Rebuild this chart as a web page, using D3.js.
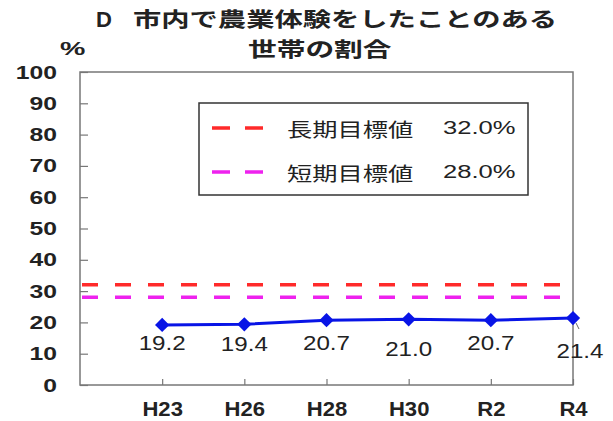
<!DOCTYPE html>
<html><head><meta charset="utf-8">
<script src="https://cdn.jsdelivr.net/npm/d3@7"></script>
<style>
html,body{margin:0;padding:0;background:#fff;}
svg{display:block;}
</style></head>
<body>
<svg id="chart" width="613" height="421"></svg>
<script>
// ---- data ----
const titlePrefix = "D";
const titleLines = ["市内で農業体験をしたことのある", "世帯の割合"];
const yUnit = "%";
const categories = ["H23", "H26", "H28", "H30", "R2", "R4"];
const values = [19.2, 19.4, 20.7, 21.0, 20.7, 21.4];
const valueLabels = ["19.2", "19.4", "20.7", "21.0", "20.7", "21.4"];
const yTicks = [0, 10, 20, 30, 40, 50, 60, 70, 80, 90, 100];
const targetNames = ["長期目標値", "短期目標値"];
const targetValues = [32.0, 28.0];
const targetLabels = ["32.0%", "28.0%"];

// ---- layout / style ----
const W = 613, H = 421;
const m = {left: 80, right: 573, top: 72, bottom: 385};
const targetColors = ["#ff2a2a", "#ee22ee"];
const lineColor = "#0814e6";
const latin = "'Liberation Sans', Arial, sans-serif";
const cjk = "'Noto Sans CJK JP', sans-serif";
const textColor = "#222";

const svg = d3.select("#chart");
svg.append("rect").attr("width", W).attr("height", H).attr("fill", "#fff");

function stretch(sel, k) {
  sel.each(function () {
    const w = this.getComputedTextLength();
    d3.select(this).attr("textLength", w * k).attr("lengthAdjust", "spacingAndGlyphs");
  });
}

const step = (m.right - m.left) / categories.length;
const x = d3.scalePoint().domain(categories).range([m.left + step, m.right]);
const y = d3.scaleLinear().domain([0, 100]).range([m.bottom, m.top]);

// frame
svg.append("rect")
  .attr("x", m.left).attr("y", m.top)
  .attr("width", m.right - m.left).attr("height", m.bottom - m.top)
  .attr("fill", "none").attr("stroke", "#777").attr("stroke-width", 1.5);

// y axis
const gy = svg.append("g").attr("transform", `translate(${m.left},0)`)
  .call(d3.axisLeft(y).tickValues(yTicks).tickSize(-8).tickPadding(23).tickFormat(d3.format("d")));
gy.select(".domain").remove();
gy.selectAll("line").attr("stroke", "#777").attr("stroke-width", 1.2);
gy.selectAll("text").attr("font-family", latin).attr("font-size", 19).attr("fill", textColor)
  .attr("font-weight", "bold");
stretch(gy.selectAll("text"), 1.3);

// x axis
const gx = svg.append("g").attr("transform", `translate(0,${m.bottom})`)
  .call(d3.axisBottom(x).tickSize(-6).tickPadding(16));
gx.select(".domain").remove();
gx.selectAll("line").attr("stroke", "#777").attr("stroke-width", 1.2);
gx.selectAll("text").attr("font-family", latin).attr("font-size", 21).attr("fill", textColor)
  .attr("font-weight", "bold");
stretch(gx.selectAll("text"), 1.05);

// target dashed lines
targetValues.forEach((v, i) => {
  svg.append("line")
    .attr("x1", m.left + 2).attr("x2", m.right)
    .attr("y1", y(v)).attr("y2", y(v))
    .attr("stroke", targetColors[i]).attr("stroke-width", 3.5)
    .attr("stroke-dasharray", "16,17");
});

// series line
const pts = categories.map((c, i) => [x(c), y(values[i])]);
svg.append("path").datum(pts)
  .attr("d", d3.line())
  .attr("fill", "none").attr("stroke", lineColor).attr("stroke-width", 3);
svg.selectAll(".mk").data(pts).join("path")
  .attr("class", "mk")
  .attr("transform", d => `translate(${d[0]},${d[1]})`)
  .attr("d", d3.symbol(d3.symbolDiamond2, 130)())
  .attr("fill", lineColor);

// leader line for last label
const last = pts[pts.length - 1];
svg.append("line")
  .attr("x1", last[0] + 3).attr("y1", last[1] + 5)
  .attr("x2", last[0] + 6).attr("y2", last[1] + 11)
  .attr("stroke", "#666").attr("stroke-width", 1);

// value labels
const labelNudge = [[0, 18], [0, 19], [0, 22], [0, 29], [0, 22], [7, 32]];
const vl = svg.selectAll(".vl").data(valueLabels).join("text")
  .attr("class", "vl")
  .attr("x", (d, i) => pts[i][0] + labelNudge[i][0])
  .attr("y", (d, i) => pts[i][1] + labelNudge[i][1])
  .attr("text-anchor", "middle").attr("dominant-baseline", "central")
  .attr("font-family", latin).attr("font-size", 21).attr("fill", textColor)
  .text(d => d);
stretch(vl, 1.15);

// legend
const lg = svg.append("g");
lg.append("rect").attr("x", 199).attr("y", 103).attr("width", 329).attr("height", 92)
  .attr("fill", "#fff").attr("stroke", "#333").attr("stroke-width", 1.5);
const legY = [128, 172];
targetNames.forEach((n, i) => {
  lg.append("line").attr("x1", 212).attr("x2", 264).attr("y1", legY[i]).attr("y2", legY[i])
    .attr("stroke", targetColors[i]).attr("stroke-width", 3.5).attr("stroke-dasharray", "18,15");
  const t1 = lg.append("text").attr("x", 287).attr("y", legY[i])
    .attr("dominant-baseline", "central")
    .attr("font-family", cjk).attr("font-size", 19).attr("fill", textColor).text(n);
  stretch(t1, 1.33);
  const t2 = lg.append("text").attr("x", 443).attr("y", legY[i])
    .attr("dominant-baseline", "central")
    .attr("font-family", latin).attr("font-size", 18).attr("fill", textColor).text(targetLabels[i]);
  stretch(t2, 1.42);
});

// title
const td = svg.append("text").attr("x", 96).attr("y", 19).attr("dominant-baseline", "central")
  .attr("font-family", latin).attr("font-weight", "bold").attr("font-size", 22).attr("fill", textColor)
  .text(titlePrefix);
stretch(td, 1.0);
const tl1 = svg.append("text").attr("x", 133).attr("y", 18).attr("dominant-baseline", "central")
  .attr("font-family", cjk).attr("font-weight", "bold").attr("font-size", 20.5).attr("fill", textColor)
  .text(titleLines[0]);
stretch(tl1, 1.38);
const tl2 = svg.append("text").attr("x", 248).attr("y", 48).attr("dominant-baseline", "central")
  .attr("font-family", cjk).attr("font-weight", "bold").attr("font-size", 20.5).attr("fill", textColor)
  .text(titleLines[1]);
stretch(tl2, 1.4);
const tu = svg.append("text").attr("x", 60).attr("y", 48).attr("dominant-baseline", "central")
  .attr("font-family", latin).attr("font-weight", "bold").attr("font-size", 19).attr("fill", textColor)
  .text(yUnit);
stretch(tu, 1.5);
</script>
</body></html>
